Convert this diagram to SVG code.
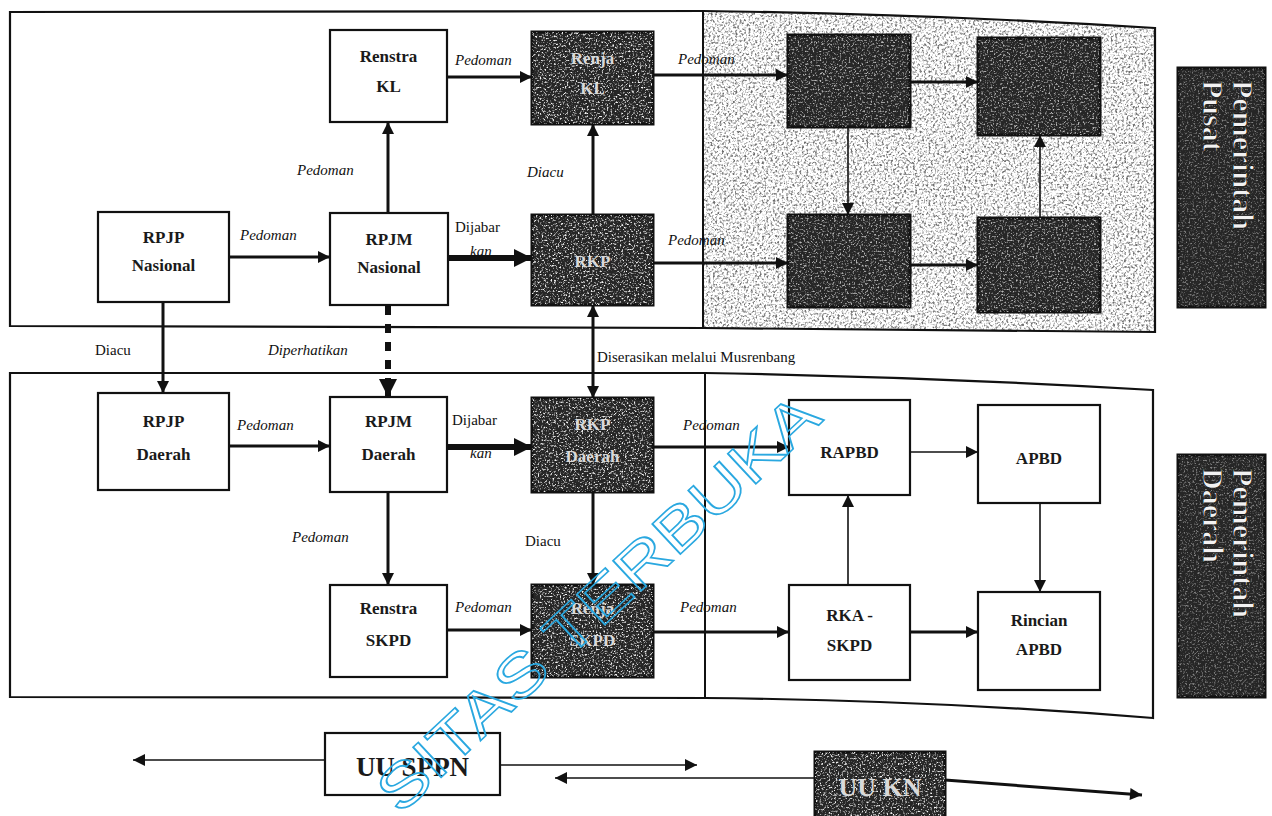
<svg xmlns="http://www.w3.org/2000/svg" width="1272" height="816" viewBox="0 0 1272 816">
<style>
  .box{fill:#fff;stroke:#111;stroke-width:2.2}
  .dbox{fill:#262626;stroke:#111;stroke-width:3}
  .t{font-family:"Liberation Serif","DejaVu Serif",serif;font-size:17px;font-weight:bold;fill:#1a1a1a;text-anchor:middle}
  .tl{font-family:"Liberation Serif","DejaVu Serif",serif;font-size:17px;fill:#d9d9d9;text-anchor:middle;font-weight:bold}
  .lb{font-family:"Liberation Serif","DejaVu Serif",serif;font-size:15px;font-style:italic;fill:#111}
  .lbn{font-family:"Liberation Serif","DejaVu Serif",serif;font-size:15px;fill:#111}
  .c{fill:none;stroke:#111;stroke-width:3;marker-end:url(#ah)}
  .cthin{fill:none;stroke:#111;stroke-width:1.6;marker-end:url(#ah)}
  .cthick{fill:none;stroke:#111;stroke-width:6;marker-end:url(#ahB)}
  .panel{fill:none;stroke:#111;stroke-width:2.2}
  .side{font-family:"Liberation Serif","DejaVu Serif",serif;font-size:30px;font-weight:bold;fill:#f2f2f2;stroke:#111;stroke-width:0.8}
</style>
<defs>
  <marker id="ah" viewBox="0 0 10 10" refX="10" refY="5" markerWidth="14" markerHeight="12" markerUnits="userSpaceOnUse" orient="auto-start-reverse">
    <path d="M0,0 L10,5 L0,10 z" fill="#111"/>
  </marker>
  <marker id="ahB" viewBox="0 0 10 10" refX="10" refY="5" markerWidth="20" markerHeight="18" markerUnits="userSpaceOnUse" orient="auto">
    <path d="M0,0 L10,5 L0,10 z" fill="#111"/>
  </marker>
  <filter id="spW" filterUnits="objectBoundingBox" x="0" y="0" width="1" height="1">
    <feTurbulence type="fractalNoise" baseFrequency="0.55" numOctaves="2" seed="5"/>
    <feColorMatrix type="matrix" values="0 0 0 0 0.92  0 0 0 0 0.92  0 0 0 0 0.92  4 0 0 0 -2.1"/>
  </filter>
  <filter id="spD" filterUnits="objectBoundingBox" x="0" y="0" width="1" height="1">
    <feTurbulence type="fractalNoise" baseFrequency="0.45" numOctaves="2" seed="9"/>
    <feColorMatrix type="matrix" values="0 0 0 0 0.15  0 0 0 0 0.15  0 0 0 0 0.15  3.4 0 0 0 -1.6"/>
  </filter>
  <clipPath id="trClip"><path d="M703,11 Q930,14 1155,28 L1155,332 Q930,330 703,328 Z"/></clipPath>
</defs>

<g id="panels">
  <g clip-path="url(#trClip)"><rect x="703" y="8" width="455" height="328" filter="url(#spD)"/></g>
  <path class="panel" d="M10,12 L703,11 Q930,14 1155,28 L1155,332 Q930,330 703,328 L10,326 Z"/>
  <line x1="703" y1="11" x2="703" y2="328" stroke="#111" stroke-width="2"/>
  <path class="panel" d="M10,373 L705,373 Q930,377 1153,390 L1153,718 Q930,700 705,698 L10,697 Z"/>
  <line x1="705" y1="373" x2="705" y2="698" stroke="#111" stroke-width="2"/>
</g>

<g id="connectors">
  <path class="c" d="M229,257 L330,257"/>
  <path class="c" d="M388,213 L388,122"/>
  <path class="c" d="M447,77 L532,77"/>
  <path class="cthick" d="M448,258 L532,258"/>
  <path class="c" d="M593,215 L593,124"/>
  <path class="c" d="M653,75 L788,75"/>
  <path class="c" d="M653,263 L788,263"/>
  <path class="c" d="M910,82 L978,82"/>
  <path class="cthin" d="M848,127 L848,215"/>
  <path class="c" d="M910,265 L978,265"/>
  <path class="cthin" d="M1040,218 L1040,135"/>
  <path class="c" d="M163,302 L163,393"/>
  <path fill="none" stroke="#111" stroke-width="6" stroke-dasharray="9 9" d="M388,306 L388,378"/>
  <path class="cthick" d="M388,378 L388,397"/>
  <path class="c" style="marker-start:url(#ah)" d="M593,305 L593,398"/>
  <path class="c" d="M229,446 L330,446"/>
  <path class="cthick" d="M447,447 L532,447"/>
  <path class="c" d="M653,447 L789,447"/>
  <path class="cthin" d="M910,452 L978,452"/>
  <path class="c" d="M388,492 L388,585"/>
  <path class="c" d="M593,492 L593,585"/>
  <path class="c" d="M447,630 L532,630"/>
  <path class="c" d="M653,632 L789,632"/>
  <path class="cthin" d="M848,585 L848,495"/>
  <path class="cthin" d="M1040,503 L1040,592"/>
  <path class="c" d="M910,632 L978,632"/>
  <path class="cthin" d="M325,760 L133,760"/>
  <path class="cthin" d="M500,765 L697,765"/>
  <path class="cthin" d="M815,778 L555,778"/>
  <path class="c" d="M945,780 L1142,795"/>
</g>

<g id="labels">
  <text class="lb" x="240" y="240">Pedoman</text>
  <text class="lb" x="297" y="175">Pedoman</text>
  <text class="lb" x="455" y="65">Pedoman</text>
  <text class="lbn" x="455" y="232">Dijabar</text>
  <text class="lb" x="470" y="256">kan</text>
  <text class="lb" x="527" y="177">Diacu</text>
  <text class="lb" x="678" y="64">Pedoman</text>
  <text class="lb" x="668" y="245">Pedoman</text>
  <text class="lbn" x="95" y="355">Diacu</text>
  <text class="lb" x="268" y="355">Diperhatikan</text>
  <text class="lbn" x="597" y="362">Diserasikan melalui Musrenbang</text>
  <text class="lb" x="237" y="430">Pedoman</text>
  <text class="lbn" x="452" y="425">Dijabar</text>
  <text class="lb" x="470" y="458">kan</text>
  <text class="lb" x="683" y="430">Pedoman</text>
  <text class="lb" x="292" y="542">Pedoman</text>
  <text class="lbn" x="525" y="546">Diacu</text>
  <text class="lb" x="455" y="612">Pedoman</text>
  <text class="lb" x="680" y="612">Pedoman</text>
</g>

<g id="n-renstra-kl"><rect class="box" x="330" y="30" width="117" height="92"/><text class="t" x="388.5" y="62">Renstra</text><text class="t" x="388.5" y="92">KL</text></g>
<g id="n-renja-kl"><rect class="dbox" x="532" y="32" width="121" height="92"/><rect x="532" y="32" width="121" height="92" filter="url(#spW)"/><text class="tl" x="592.5" y="64">Renja</text><text class="tl" x="592.5" y="94">KL</text></g>
<g id="n-rpjp-nas"><rect class="box" x="98" y="212" width="131" height="90"/><text class="t" x="163.5" y="243">RPJP</text><text class="t" x="163.5" y="271">Nasional</text></g>
<g id="n-rpjm-nas"><rect class="box" x="330" y="213" width="118" height="92"/><text class="t" x="389" y="245">RPJM</text><text class="t" x="389" y="273">Nasional</text></g>
<g id="n-rkp"><rect class="dbox" x="532" y="215" width="121" height="90"/><rect x="532" y="215" width="121" height="90" filter="url(#spW)"/><text class="tl" x="592.5" y="267">RKP</text></g>
<g id="n-pusat-a"><rect class="dbox" x="788" y="35" width="122" height="92" fill="#333"/><rect x="788" y="35" width="122" height="92" filter="url(#spW)" opacity="0.7"/></g>
<g id="n-pusat-b"><rect class="dbox" x="978" y="38" width="122" height="97" fill="#333"/><rect x="978" y="38" width="122" height="97" filter="url(#spW)" opacity="0.7"/></g>
<g id="n-pusat-c"><rect class="dbox" x="788" y="215" width="122" height="92" fill="#333"/><rect x="788" y="215" width="122" height="92" filter="url(#spW)" opacity="0.7"/></g>
<g id="n-pusat-d"><rect class="dbox" x="978" y="218" width="122" height="94" fill="#333"/><rect x="978" y="218" width="122" height="94" filter="url(#spW)" opacity="0.7"/></g>
<g id="n-pemerintah-pusat"><rect class="dbox" x="1178" y="68" width="87" height="239"/><rect x="1178" y="68" width="87" height="239" filter="url(#spW)" opacity="0.45"/><text class="side" transform="translate(1225,80) rotate(90)"><tspan x="0" y="-8">Pemerintah</tspan><tspan x="0" y="22">Pusat</tspan></text></g>

<g id="n-rpjp-daerah"><rect class="box" x="98" y="393" width="131" height="97"/><text class="t" x="163.5" y="427">RPJP</text><text class="t" x="163.5" y="460">Daerah</text></g>
<g id="n-rpjm-daerah"><rect class="box" x="330" y="397" width="117" height="95"/><text class="t" x="388.5" y="427">RPJM</text><text class="t" x="388.5" y="460">Daerah</text></g>
<g id="n-rkp-daerah"><rect class="dbox" x="532" y="398" width="121" height="94"/><rect x="532" y="398" width="121" height="94" filter="url(#spW)"/><text class="tl" x="592.5" y="430">RKP</text><text class="tl" x="592.5" y="462">Daerah</text></g>
<g id="n-renstra-skpd"><rect class="box" x="330" y="585" width="117" height="92"/><text class="t" x="388.5" y="614">Renstra</text><text class="t" x="388.5" y="646">SKPD</text></g>
<g id="n-renja-skpd"><rect class="dbox" x="532" y="585" width="121" height="92"/><rect x="532" y="585" width="121" height="92" filter="url(#spW)"/><text class="tl" x="592.5" y="614">Renja</text><text class="tl" x="592.5" y="646">SKPD</text></g>
<g id="n-rapbd"><rect class="box" x="789" y="400" width="121" height="95"/><text class="t" x="849.5" y="458">RAPBD</text></g>
<g id="n-apbd"><rect class="box" x="978" y="405" width="122" height="98"/><text class="t" x="1039" y="464">APBD</text></g>
<g id="n-rka-skpd"><rect class="box" x="789" y="585" width="121" height="95"/><text class="t" x="849.5" y="621">RKA -</text><text class="t" x="849.5" y="651">SKPD</text></g>
<g id="n-rincian-apbd"><rect class="box" x="978" y="592" width="122" height="98"/><text class="t" x="1039" y="626">Rincian</text><text class="t" x="1039" y="655">APBD</text></g>
<g id="n-pemerintah-daerah"><rect class="dbox" x="1178" y="455" width="87" height="242"/><rect x="1178" y="455" width="87" height="242" filter="url(#spW)" opacity="0.45"/><text class="side" transform="translate(1225,468) rotate(90)"><tspan x="0" y="-8">Pemerintah</tspan><tspan x="0" y="22">Daerah</tspan></text></g>

<g id="n-uu-sppn"><rect class="box" x="325" y="733" width="175" height="62"/><text class="t" x="412.5" y="776" style="font-size:27px">UU SPPN</text></g>
<g id="n-uu-kn"><rect class="dbox" x="815" y="752" width="130" height="66"/><rect x="815" y="752" width="130" height="66" filter="url(#spW)"/><text class="tl" x="880" y="796" style="font-size:26px">UU KN</text></g>

<g id="watermark">
  <text transform="translate(612,618) rotate(-43)" x="0" y="0" text-anchor="middle" font-family="'Liberation Sans',sans-serif" font-size="60" fill="none" stroke="#2aa8e0" stroke-width="1.6" textLength="580" lengthAdjust="spacingAndGlyphs">SITAS TERBUKA</text>
</g>
</svg>
